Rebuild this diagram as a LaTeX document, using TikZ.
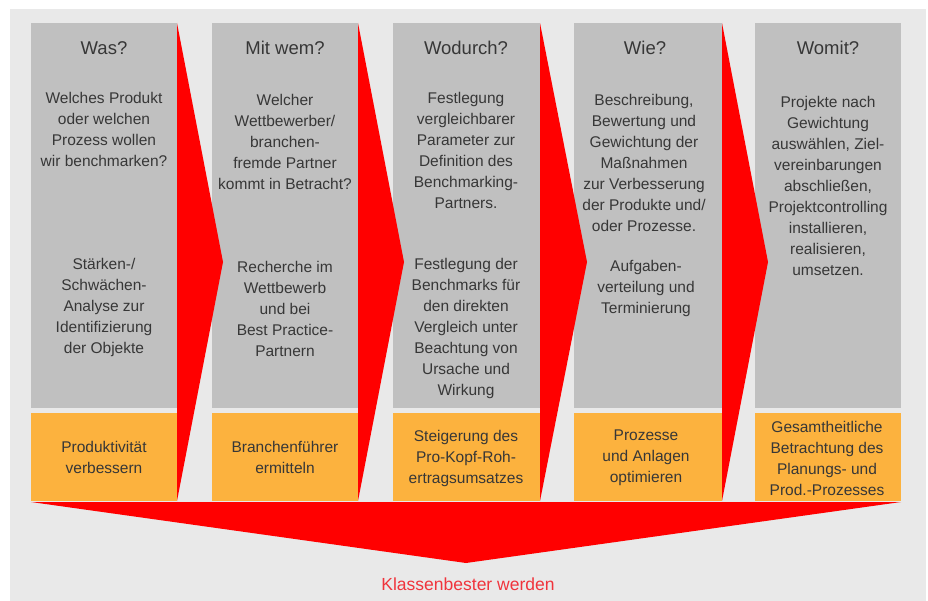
\documentclass[tikz,border=0pt]{standalone}
\usepackage{fontspec}
\setmainfont{Liberation Sans}
\usetikzlibrary{positioning}
\definecolor{bggray}{RGB}{233,233,233}
\definecolor{colgray}{RGB}{192,192,192}
\definecolor{goalorange}{RGB}{252,178,62}
\definecolor{arrowred}{RGB}{255,0,0}
\definecolor{labelred}{RGB}{240,52,60}
\definecolor{textgray}{RGB}{55,55,55}

\begin{document}
\begin{tikzpicture}[x=1pt,y=-1pt,
  colbox/.style={fill=colgray},
  goalbox/.style={fill=goalorange},
  chevron/.style={fill=arrowred},
  title/.style={font=\fontsize{18.5}{22}\selectfont,text=textgray},
  body/.style={font=\fontsize{15.5}{21}\selectfont,text=textgray,align=center,inner sep=0pt}]
\useasboundingbox (0,0) rectangle (928,601);
\fill[white] (0,0) rectangle (928,601);
\fill[bggray] (10,9) rectangle (926,601);

% columns
\fill[colbox] (31,23) rectangle (177,408);
\fill[goalbox] (31,413) rectangle (177,501);
\fill[colbox] (212,23) rectangle (358,408);
\fill[goalbox] (212,413) rectangle (358,501);
\fill[colbox] (393,23) rectangle (540,408);
\fill[goalbox] (393,413) rectangle (540,501);
\fill[colbox] (574,23) rectangle (722,408);
\fill[goalbox] (574,413) rectangle (722,501);
\fill[colbox] (755,23) rectangle (901,408);
\fill[goalbox] (755,413) rectangle (901,501);

% chevrons between the columns
\fill[chevron] (177,23) -- (223,262) -- (177,501) -- cycle;
\fill[chevron] (358,23) -- (404,262) -- (358,501) -- cycle;
\fill[chevron] (540,23) -- (587,262) -- (540,501) -- cycle;
\fill[chevron] (722,23) -- (768,262) -- (722,501) -- cycle;

% big arrow at the bottom
\fill[chevron] (31,502) -- (901,502) -- (466,563) -- cycle;

% Was?
\node[title] (was) at (104,48) {Was?};
\node[body] (wasfrage) at (104,129.5) {Welches Produkt\\oder welchen\\Prozess wollen\\wir benchmarken?};
\node[body] (wasweg) at (104,307.5) {Stärken-/\\Schwächen-\\Analyse zur\\Identifizierung\\der Objekte};
\node[body] (wasziel) at (104,457.5) {Produktivität\\verbessern};

% Mit wem?
\node[title] (mitwem) at (285,48) {Mit wem?};
\node[body] (mitwemfrage) at (285,142) {Welcher\\Wettbewerber/\\branchen-\\fremde Partner\\kommt in Betracht?};
\node[body] (mitwemweg) at (285,308.5) {Recherche im\\Wettbewerb\\und bei\\Best Practice-\\Partnern};
\node[body] (mitwemziel) at (285,457.5) {Branchenführer\\ermitteln};

% Wodurch?
\node[title] (wodurch) at (466,48) {Wodurch?};
\node[body] (wodurchfrage) at (466,150.5) {Festlegung\\vergleichbarer\\Parameter zur\\Definition des\\Benchmarking-\\Partners.};
\node[body] (wodurchweg) at (466,328.5) {Festlegung der\\Benchmarks für\\den direkten\\Vergleich unter\\Beachtung von\\Ursache und\\Wirkung};
\node[body] (wodurchziel) at (466,458) {Steigerung des\\Pro-Kopf-Roh-\\ertragsumsatzes};

% Wie?
\node[title] (wie) at (645,48) {Wie?};
\node[body] (wiefrage) at (644,163) {Beschreibung,\\Bewertung und\\Gewichtung der\\Maßnahmen\\zur Verbesserung\\der Produkte und/\\oder Prozesse.};
\node[body] (wieweg) at (646,288.5) {Aufgaben-\\verteilung und\\Terminierung};
\node[body] (wieziel) at (646,458) {Prozesse\\und Anlagen\\optimieren};

% Womit?
\node[title] (womit) at (828,48) {Womit?};
\node[body] (womitfrage) at (828,186) {Projekte nach\\Gewichtung\\auswählen, Ziel-\\vereinbarungen\\abschließen,\\Projektcontrolling\\installieren,\\realisieren,\\umsetzen.};
\node[body] (womitziel) at (827,458.5) {Gesamtheitliche\\Betrachtung des\\Planungs- und\\Prod.-Prozesses};

\node[font=\fontsize{17.5}{21}\selectfont,text=labelred] (ziel) at (468,584) {Klassenbester werden};
\end{tikzpicture}
\end{document}
